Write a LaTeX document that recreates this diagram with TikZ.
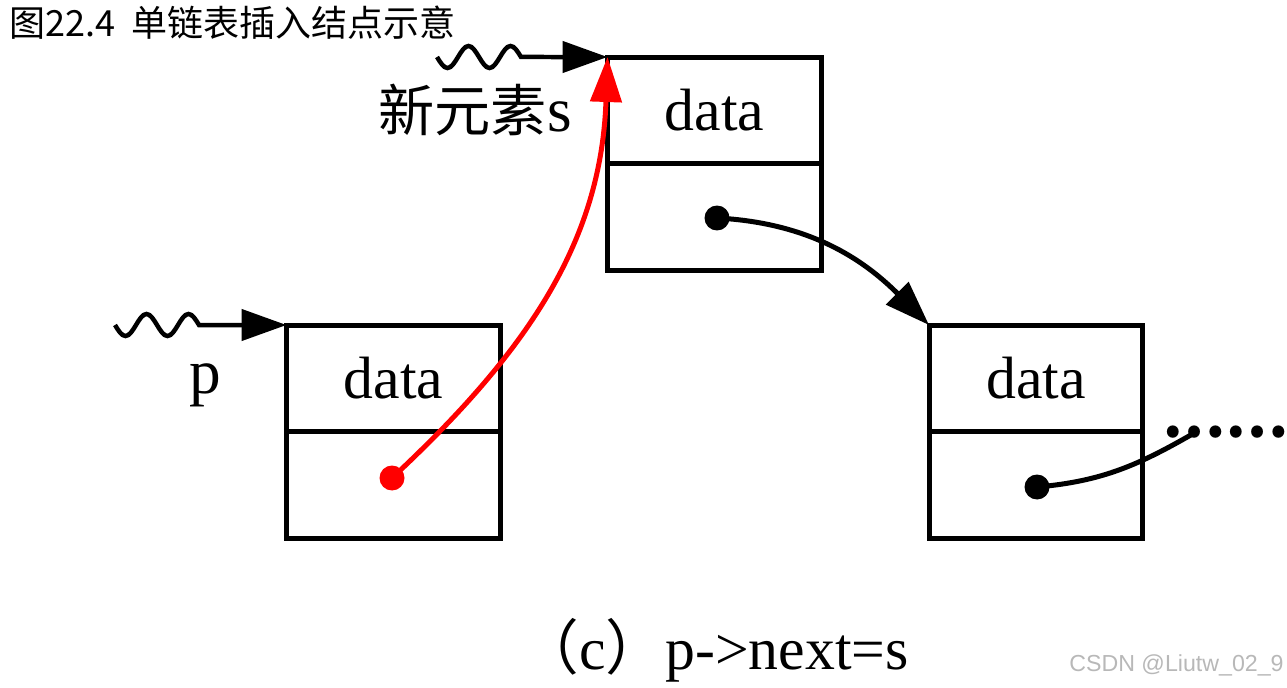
\documentclass[tikz,border=0pt]{standalone}
\usepackage{fontspec}
\setmainfont{Liberation Serif}
\newfontfamily\cjk{Noto Sans CJK SC}
\newfontfamily\wmfont{Liberation Sans}
\usepackage{tikz}
\usetikzlibrary{arrows.meta}
\tikzset{>={Triangle[length=0.9cm,width=0.62cm]}}
\usetikzlibrary{positioning}

\begin{document}
\begin{tikzpicture}[x=0.02cm,y=0.02cm,
    cell/.style={draw,line width=0.1cm,minimum width=4.28cm,minimum height=2.14cm,
      inner sep=0pt,outer sep=0pt,font=\fontsize{34}{40}\selectfont},
    ptr/.style={line width=0.1cm,->},
    wave/.style={line width=0.09cm,->}]
    \useasboundingbox (0,0) rectangle (1287,687);
    \node[anchor=west,font=\cjk\fontsize{20.5}{24}\selectfont] (title) at (3,664) {图22.4\ \ 单链表插入结点示意};
    % new element s
    \node[cell] (sdata) at (714.5,576.5) {data};
    \node[cell,below=0pt of sdata] (snext) {};
    % node p
    \node[cell] (pdata) at (393.5,308.5) {data};
    \node[cell,below=0pt of pdata] (pnext) {};
    % old successor of p
    \node[cell] (qdata) at (1036,308.5) {data};
    \node[cell,below=0pt of qdata] (qnext) {};
    \node (slabel) at (475,577) {\cjk\fontsize{32}{36}\selectfont 新元素\rmfamily\fontsize{36}{40}\selectfont s};
    \node[font=\fontsize{36}{40}\selectfont] (plabel) at (205,302) {p};
    \coordinate (swave) at (437,630);
    \coordinate (pwave) at (115,362);
    \coordinate (sdot) at (717,469);
    \coordinate (pdot) at (392,209);
    \coordinate (qdot) at (1037,200);
    \coordinate (qend) at (1196,255);
    \draw[wave] (swave) sin ++(10.5,-11) cos ++(10.5,11) sin ++(10.5,11) cos ++(10.5,-11)
      sin ++(10.5,-11) cos ++(10.5,11) sin ++(10.5,11) cos ++(10.5,-11) -- (sdata.north west);
    \draw[wave] (pwave) sin ++(10.5,-11) cos ++(10.5,11) sin ++(10.5,11) cos ++(10.5,-11)
      sin ++(10.5,-11) cos ++(10.5,11) sin ++(10.5,11) cos ++(10.5,-11) -- (pdata.north west);
    \begin{scope}[red]
      \fill (pdot) circle[radius=0.25cm];
      \draw[ptr] (pdot) to[out=43,in=-92] (sdata.north west);
    \end{scope}
    \fill (sdot) circle[radius=0.25cm];
    \draw[ptr] (sdot) to[out=-3,in=135] (qdata.north west);
    \fill (qdot) circle[radius=0.25cm];
    \draw[line width=0.1cm] (qdot) to[out=5,in=-150] (qend);
    \node[anchor=west,inner sep=0pt,font=\cjk\bfseries\fontsize{32}{36}\selectfont] (more) at (1162,255) {……};
    \node[font=\fontsize{34}{40}\selectfont] (caption) at (714,37) {{\cjk （}c{\cjk ）}p->next=s};
    \node[anchor=east,inner sep=0pt,text=black!28,font=\wmfont\fontsize{13.2}{15}\selectfont] (csdn) at (1284,22) {CSDN @Liutw\_02\_9};
\end{tikzpicture}
\end{document}
